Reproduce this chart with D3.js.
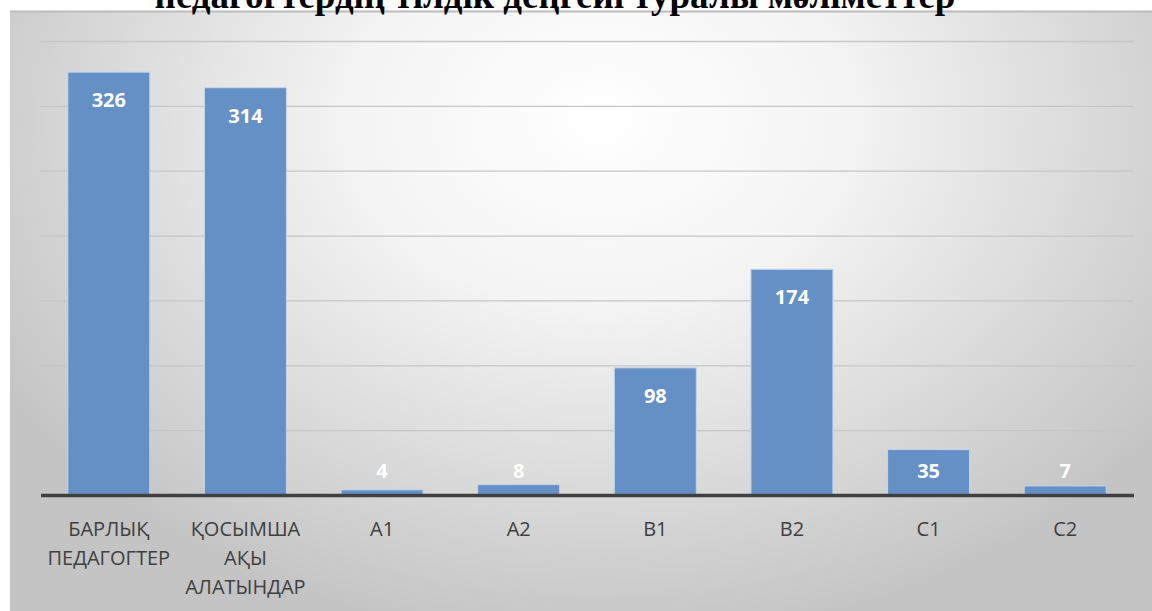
<!DOCTYPE html>
<html>
<head>
<meta charset="utf-8">
<script src="https://cdn.jsdelivr.net/npm/d3@7"></script>
<style>
  html, body { margin: 0; padding: 0; background: #ffffff; }
  svg { display: block; }
</style>
</head>
<body>
<svg id="chart" width="1152" height="611"></svg>
<script>
// Teachers' language levels
const categories = ["БАРЛЫҚ ПЕДАГОГТЕР", "ҚОСЫМША АҚЫ АЛАТЫНДАР", "A1", "A2", "B1", "B2", "C1", "C2"];
const categoryLines = [["БАРЛЫҚ", "ПЕДАГОГТЕР"], ["ҚОСЫМША", "АҚЫ", "АЛАТЫНДАР"], ["A1"], ["A2"], ["B1"], ["B2"], ["C1"], ["C2"]];
const values = [326, 314, 4, 8, 98, 174, 35, 7];
const yTicks = [0, 50, 100, 150, 200, 250, 300, 350];
const title = "педагогтердің тілдік деңгейі туралы мәліметтер";

const W = 1152, H = 611;
const svg = d3.select("#chart");
const defs = svg.append("defs");

// soft radial background of the chart area
const grad = defs.append("radialGradient")
  .attr("id", "bg").attr("gradientUnits", "userSpaceOnUse")
  .attr("cx", 600).attr("cy", 120).attr("r", 700)
  .attr("gradientTransform", "translate(600,120) scale(1,0.75) translate(-600,-120)");
grad.append("stop").attr("offset", "0%").attr("stop-color", "#ffffff");
grad.append("stop").attr("offset", "35%").attr("stop-color", "#f4f4f4");
grad.append("stop").attr("offset", "100%").attr("stop-color", "#c4c4c4");

svg.append("rect").attr("x", 10).attr("y", 11).attr("width", W - 10).attr("height", H - 11)
  .attr("fill", "url(#bg)");
svg.append("line").attr("x1", 10).attr("x2", W).attr("y1", 11.5).attr("y2", 11.5)
  .attr("stroke", "#bcbcbc").attr("stroke-width", 2);

// title, its upper part runs past the top edge
svg.append("text")
  .attr("x", 555).attr("y", 8)
  .attr("text-anchor", "middle")
  .attr("font-family", "'Liberation Serif', 'Times New Roman', serif")
  .attr("font-weight", "bold")
  .attr("font-size", 37)
  .attr("fill", "#000")
  .text(title);

const plot = { left: 40.5, right: 1133.5, top: 41, bottom: 495 };

const x = d3.scaleBand().domain(categories).range([plot.left, plot.right]).paddingInner(0.4).paddingOuter(0.2);
const y = d3.scaleLinear().domain([0, 350]).range([plot.bottom, plot.top]);

// gridlines
svg.append("g").attr("transform", `translate(${plot.left},0)`)
  .call(d3.axisRight(y).tickValues(yTicks.filter(t => t > 0)).tickSize(plot.right - plot.left).tickFormat(""))
  .call(g => g.select(".domain").remove())
  .call(g => g.selectAll(".tick line").attr("stroke", "#c6c6c6").attr("stroke-width", 1.3));

// bars
svg.append("g").selectAll("rect").data(values).join("rect")
  .attr("x", (d, i) => x(categories[i]))
  .attr("y", d => y(d))
  .attr("width", x.bandwidth())
  .attr("height", d => y(0) - y(d))
  .attr("fill", "#6590c5")
  .attr("stroke", "#c4d6ec")
  .attr("stroke-width", 1);

// value labels
svg.append("g").selectAll("text").data(values).join("text")
  .attr("x", (d, i) => x(categories[i]) + x.bandwidth() / 2)
  .attr("y", d => Math.min(y(d) + 35, y(0) - 17))
  .attr("text-anchor", "middle")
  .attr("font-family", "'Open Sans', 'DejaVu Sans', sans-serif")
  .attr("font-weight", "bold")
  .attr("font-size", 20)
  .attr("fill", "#ffffff")
  .text(d => d);

// category axis
const xAxis = svg.append("g").attr("transform", `translate(0,${plot.bottom})`)
  .call(d3.axisBottom(x).tickSize(0).tickFormat(""));
xAxis.select(".domain").attr("stroke", "#404040").attr("stroke-width", 3.5);

const labels = svg.append("g")
  .attr("font-family", "'Open Sans', 'DejaVu Sans', sans-serif")
  .attr("font-size", 20)
  .attr("fill", "#404040")
  .attr("text-anchor", "middle");
categories.forEach((c, i) => {
  const t = labels.append("text").attr("x", x(c) + x.bandwidth() / 2).attr("y", 536);
  categoryLines[i].forEach((line, j) => {
    t.append("tspan").attr("x", x(c) + x.bandwidth() / 2).attr("dy", j === 0 ? 0 : 29).text(line);
  });
});
</script>
</body>
</html>
